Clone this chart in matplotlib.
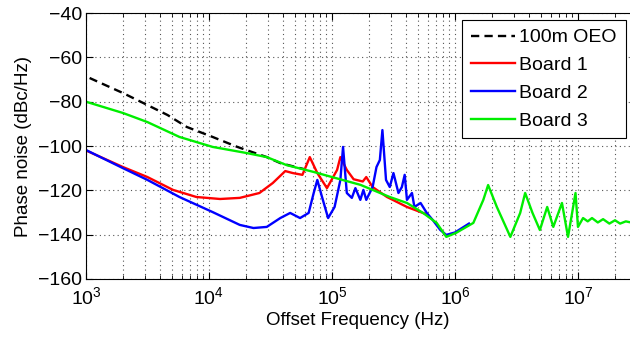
import matplotlib
matplotlib.use('Agg')
import matplotlib.pyplot as plt
from matplotlib.ticker import LogLocator, NullFormatter

plt.rcParams['font.family'] = ['Liberation Sans', 'DejaVu Sans']

# Data (offset frequency in Hz, phase noise in dBc/Hz)
oeo_f = [1.07e3, 2.0e3, 2.6e3, 4.6e3, 6.6e3, 1.07e4, 1.7e4, 2.95e4, 3.8e4, 6.0e4]
oeo_pn = [-69.3, -76.1, -79.2, -86.0, -91.4, -95.9, -100.4, -105.0, -107.7, -110.5]

b1_f = [1e3, 2e3, 3.16e3, 5.1e3, 7.9e3, 1.23e4, 1.78e4, 2.57e4, 3.3e4, 4.17e4, 4.8e4,
        5.75e4, 6.6e4, 7.6e4, 9.1e4, 1.1e5, 1.17e5, 1.32e5, 1.5e5, 1.78e5, 1.9e5,
        2.14e5, 2.8e5, 4.07e5, 6.0e5]
b1_pn = [-102.0, -109.5, -114.0, -119.8, -123.0, -123.9, -123.4, -121.2, -116.7, -111.3, -112.2,
         -113.0, -105.0, -112.2, -119.0, -110.8, -105.0, -110.8, -115.0, -116.0, -114.0,
         -118.5, -123.0, -127.5, -131.0]

b2_f = [1e3, 2e3, 3.16e3, 5.75e3, 1.07e4, 1.78e4, 2.3e4, 2.95e4, 3.8e4, 4.57e4, 5.5e4,
        6.46e4, 7.1e4, 7.6e4, 8.3e4, 9.3e4, 1.05e5, 1.17e5, 1.23e5, 1.32e5, 1.45e5,
        1.55e5, 1.7e5, 1.8e5, 1.9e5, 2.14e5, 2.3e5, 2.45e5, 2.57e5, 2.75e5, 2.95e5,
        3.16e5, 3.47e5, 3.7e5, 3.9e5, 4.07e5, 4.47e5, 4.68e5, 5.25e5, 5.9e5, 6.6e5,
        7.6e5, 8.5e5, 1.0e6, 1.3e6]
b2_pn = [-101.8, -110.0, -115.3, -123.0, -129.8, -135.6, -137.0, -136.5, -132.5, -130.2, -132.5,
         -130.2, -121.2, -115.3, -123.0, -132.5, -127.5, -115.3, -100.4, -121.2, -123.4,
         -119.0, -124.3, -119.8, -124.3, -118.5, -109.5, -106.3, -92.8, -115.3, -118.5,
         -112.2, -121.2, -118.5, -113.0, -124.3, -121.2, -127.5, -125.7, -130.2, -133.4,
         -137.9, -140.1, -139.0, -135.0]

b3_f = [1e3, 2e3, 3.16e3, 5.75e3, 1.07e4, 2.04e4, 2.95e4, 4.27e4, 7.1e4, 1.0e5, 1.7e5,
        2.14e5, 2.95e5, 4.07e5, 5.5e5, 7.1e5, 8.5e5, 1.02e6, 1.41e6, 1.7e6, 1.86e6,
        2.19e6, 2.82e6, 3.39e6, 3.72e6, 4.27e6, 4.9e6, 5.62e6, 6.3e6, 7.41e6, 8.3e6,
        9.55e6, 1.0e7, 1.1e7, 1.2e7, 1.3e7, 1.45e7, 1.6e7, 1.8e7, 2.0e7, 2.2e7, 2.45e7, 2.7e7]
b3_pn = [-80.0, -85.1, -89.2, -95.9, -100.4, -103.2, -105.0, -108.6, -111.7, -114.0, -117.5,
         -119.8, -123.0, -125.7, -130.2, -134.7, -141.0, -139.2, -134.7, -124.3, -117.6,
         -127.5, -141.0, -130.2, -121.2, -130.2, -137.9, -127.5, -136.5, -125.7, -141.0,
         -121.2, -136.5, -132.5, -134.0, -132.5, -134.5, -133.0, -135.0, -133.5, -135.0, -134.0, -134.5]

fig = plt.figure(figsize=(6.3, 3.44), dpi=100)
ax = fig.add_axes([0.1365, 0.189, 0.8635, 0.773])

ax.semilogx(oeo_f, oeo_pn, color='black', linestyle=(0, (3.5, 2.2)), linewidth=1.7, label='100m OEO')
ax.semilogx(b1_f, b1_pn, color='#ff0000', linewidth=1.7, label='Board 1')
ax.semilogx(b2_f, b2_pn, color='#0000ff', linewidth=1.7, label='Board 2')
ax.semilogx(b3_f, b3_pn, color='#00ee00', linewidth=1.7, label='Board 3')

ax.set_xlim(1e3, 10 ** 7.423)
ax.set_ylim(-160, -40)
ax.set_yticks(range(-160, -39, 20))
ax.xaxis.set_major_locator(LogLocator(base=10, numticks=10))
ax.xaxis.set_minor_locator(LogLocator(base=10, subs=range(2, 10), numticks=20))
ax.xaxis.set_minor_formatter(NullFormatter())

ax.grid(True, which='major', linestyle=(0, (1, 3)), color='#555555', linewidth=0.8)
ax.grid(True, which='minor', axis='x', linestyle=(0, (1, 3)), color='#555555', linewidth=0.8)
ax.tick_params(which='both', direction='in', labelsize=14, top=True, right=False)
ax.tick_params(axis='x', which='major', length=5, pad=5)
ax.tick_params(axis='y', which='major', length=5, pad=3)
ax.tick_params(which='minor', length=3)
ax.spines['right'].set_visible(False)

ax.set_xlabel('Offset Frequency (Hz)', fontsize=13.5, labelpad=3)
ax.set_ylabel('Phase noise (dBc/Hz)', fontsize=13.5, labelpad=4)

leg = ax.legend(loc='upper left', bbox_to_anchor=(462 / 630, 1 - 20 / 344),
                bbox_transform=fig.transFigure, fontsize=14, fancybox=False, framealpha=1,
                edgecolor='black', handlelength=2.3, handletextpad=0.2,
                borderaxespad=0, labelspacing=0.52, borderpad=0.45)
leg.get_frame().set_linewidth(0.8)

fig.savefig('out.png', dpi=100)
